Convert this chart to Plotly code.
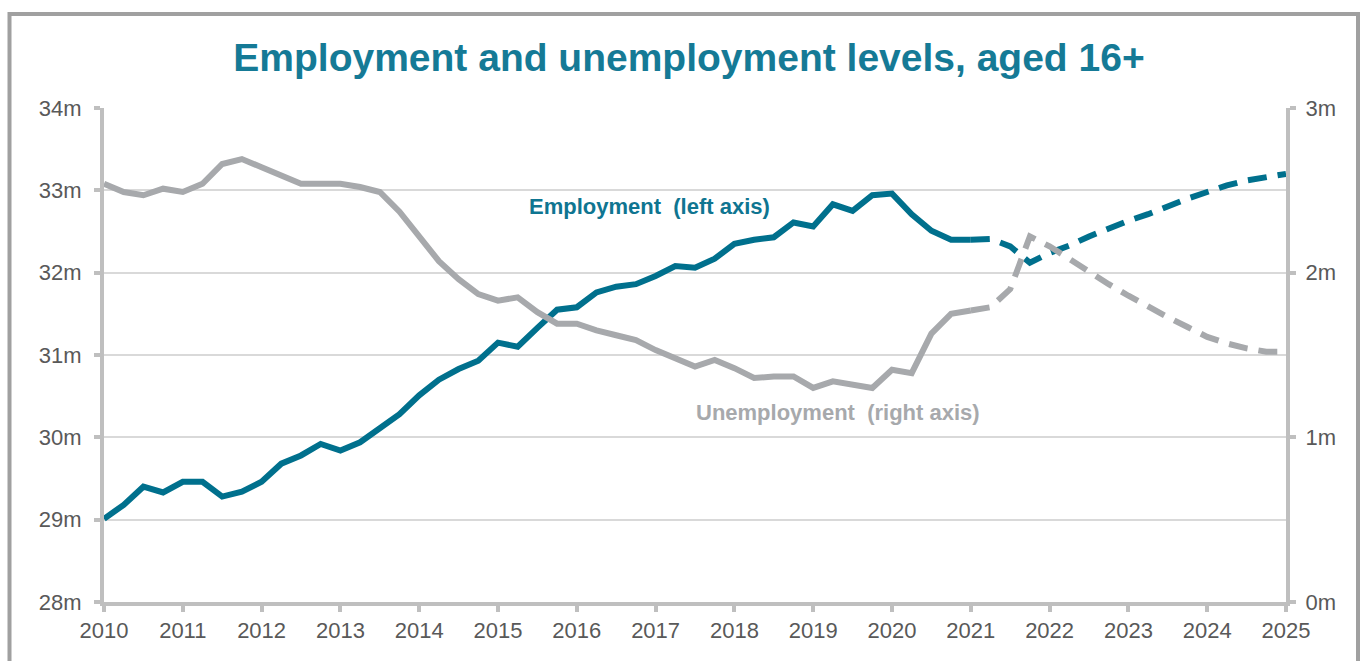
import plotly.graph_objects as go

# ---- data (quarterly) ----
years_actual = [2010 + i * 0.25 for i in range(45)]          # 2010.00 .. 2021.00
years_forecast = [2021 + i * 0.25 for i in range(17)]        # 2021.00 .. 2025.00

employment_actual = [
    29.01, 29.18, 29.40, 29.33, 29.46, 29.46, 29.28, 29.34,
    29.46, 29.68, 29.78, 29.92, 29.84, 29.94, 30.11, 30.28,
    30.51, 30.70, 30.83, 30.93, 31.15, 31.10, 31.33, 31.55,
    31.58, 31.76, 31.83, 31.86, 31.96, 32.08, 32.06, 32.17,
    32.35, 32.40, 32.43, 32.61, 32.56, 32.83, 32.75, 32.94,
    32.96, 32.71, 32.51, 32.40, 32.40,
]
employment_forecast = [
    32.40, 32.41, 32.32, 32.12, 32.24, 32.33, 32.44, 32.54,
    32.63, 32.71, 32.81, 32.90, 32.98, 33.06, 33.12, 33.16, 33.20,
]
unemployment_actual = [
    2.54, 2.49, 2.47, 2.51, 2.49, 2.54, 2.66, 2.69,
    2.64, 2.59, 2.54, 2.54, 2.54, 2.52, 2.49, 2.37,
    2.22, 2.07, 1.96, 1.87, 1.83, 1.85, 1.76, 1.69,
    1.69, 1.65, 1.62, 1.59, 1.53, 1.48, 1.43, 1.47,
    1.42, 1.36, 1.37, 1.37, 1.30, 1.34, 1.32, 1.30,
    1.41, 1.39, 1.63, 1.75, 1.77,
]
unemployment_forecast = [
    1.77, 1.79, 1.90, 2.22, 2.16, 2.08, 2.00, 1.93,
    1.86, 1.79, 1.73, 1.67, 1.61, 1.57, 1.54, 1.52, 1.52,
]

x_ticks = list(range(2010, 2026))
left_ticks = [28, 29, 30, 31, 32, 33, 34]
left_labels = ["28m", "29m", "30m", "31m", "32m", "33m", "34m"]
right_ticks = [0, 1, 2, 3]
right_labels = ["0m", "1m", "2m", "3m"]

TEAL = "#00708D"
GREY = "#A7A9AC"
AXIS = "#BFBFBF"
GRID = "#D9D9D9"
TXT = "#595959"
FONT = "Liberation Sans, Arial, sans-serif"
LW = 6
DASH = "19px,11px"

fig = go.Figure()
fig.add_trace(go.Scatter(x=years_actual, y=unemployment_actual, yaxis="y2", mode="lines",
                         line=dict(color=GREY, width=LW), hoverinfo="skip", showlegend=False))
fig.add_trace(go.Scatter(x=years_forecast, y=unemployment_forecast, yaxis="y2", mode="lines",
                         line=dict(color=GREY, width=LW, dash=DASH), hoverinfo="skip", showlegend=False))
fig.add_trace(go.Scatter(x=years_actual, y=employment_actual, mode="lines",
                         line=dict(color=TEAL, width=LW), hoverinfo="skip", showlegend=False))
fig.add_trace(go.Scatter(x=years_forecast, y=employment_forecast, mode="lines",
                         line=dict(color=TEAL, width=LW, dash=DASH), hoverinfo="skip", showlegend=False))

L, R, T, B = 104, 82, 108, 59
W, H = 1368, 661
pw, ph = W - L - R, H - T - B

def px_x(px):
    return (px - L) / pw

def px_y(py):
    return (H - B - py) / ph

fig.update_layout(
    width=W, height=H,
    margin=dict(l=L, r=R, t=T, b=B, pad=0),
    paper_bgcolor="white", plot_bgcolor="white",
    font=dict(family=FONT, size=22, color=TXT),
    title=dict(text="<b>Employment and unemployment levels, aged 16+</b>",
               font=dict(family=FONT, size=39, color="#157A96"),
               x=689 / W, xanchor="center", xref="container",
               y=1 - 57 / H, yanchor="middle", yref="container"),
    xaxis=dict(range=[2010, 2025], tickvals=x_ticks, ticktext=[str(v) for v in x_ticks],
               showgrid=False, zeroline=False, showline=True, linecolor=AXIS, linewidth=4,
               ticks="outside", ticklen=6, tickwidth=4, tickcolor=AXIS,
               tickfont=dict(size=22, color=TXT), fixedrange=True),
    yaxis=dict(range=[28, 34], tickvals=left_ticks, ticktext=left_labels,
               showgrid=True, gridcolor=GRID, gridwidth=1.5, zeroline=False,
               showline=True, linecolor=AXIS, linewidth=4,
               ticks="outside", ticklen=6, tickwidth=4, tickcolor=AXIS,
               tickfont=dict(size=22, color=TXT), ticklabelstandoff=8),
    yaxis2=dict(range=[0, 3], tickvals=right_ticks, ticktext=right_labels,
                overlaying="y", side="right", showgrid=False, zeroline=False,
                showline=True, linecolor=AXIS, linewidth=4,
                ticks="outside", ticklen=6, tickwidth=4, tickcolor=AXIS,
                tickfont=dict(size=22, color=TXT), ticklabelstandoff=5),
    annotations=[
        dict(text="<b>Employment  (left axis)</b>", x=px_x(527), y=px_y(206),
             xref="paper", yref="paper", xanchor="left", yanchor="middle", showarrow=False,
             font=dict(family=FONT, size=22, color="#0F7591")),
        dict(text="<b>Unemployment  (right axis)</b>", x=px_x(694), y=px_y(412),
             xref="paper", yref="paper", xanchor="left", yanchor="middle", showarrow=False,
             font=dict(family=FONT, size=22, color=GREY)),
    ],
    shapes=[
        dict(type="rect", xref="paper", yref="paper",
             x0=px_x(9.5), x1=px_x(1358), y0=px_y(700), y1=px_y(14),
             line=dict(color="#A0A0A0", width=4), fillcolor="rgba(0,0,0,0)", layer="below"),
    ],
)

fig.write_html("out.html")
